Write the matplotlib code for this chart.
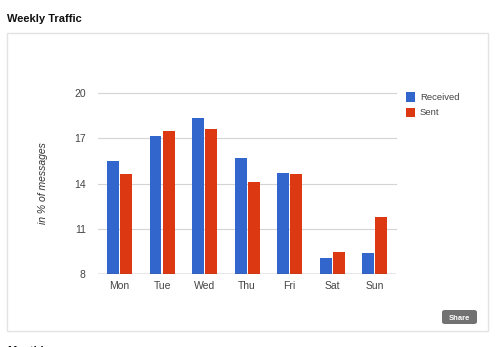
import matplotlib
matplotlib.use("Agg")
import matplotlib.pyplot as plt
from matplotlib.patches import Rectangle, FancyBboxPatch
import numpy as np

plt.rcParams["font.family"] = ["Liberation Sans", "DejaVu Sans"]

days = ["Mon", "Tue", "Wed", "Thu", "Fri", "Sat", "Sun"]
received = [15.5, 17.15, 18.3, 15.7, 14.7, 9.1, 9.4]
sent = [14.6, 17.5, 17.6, 14.1, 14.6, 9.5, 11.8]
series_names = ["Received", "Sent"]
series_colors = ["#3366CC", "#DC3912"]
y_ticks = [8, 11, 14, 17, 20]

W, H = 500, 347
fig = plt.figure(figsize=(W / 100, H / 100), dpi=100)
fig.patch.set_facecolor("white")

def fx(px):
    return px / W

def fy(py):
    return 1 - py / H

# card frame around the chart
fig.patches.append(Rectangle((fx(7), fy(331)), fx(488) - fx(7), fy(33) - fy(331),
                             transform=fig.transFigure, facecolor="white",
                             edgecolor="#e3e3e3", linewidth=1.0, zorder=-5))

fig.text(fx(7), fy(19), "Weekly Traffic", fontsize=8, fontweight="bold",
         color="#111111", ha="left", va="center")
fig.text(fx(7), fy(351.5), "Monthly", fontsize=8, fontweight="bold",
         color="#111111", ha="left", va="center")

ax = fig.add_axes([fx(98.3), fy(274.3), fx(396) - fx(98.3), fy(92.7) - fy(274.3)])
ax.set_facecolor("none")
ax.set_zorder(2)

x = np.arange(len(days))
bw = 0.28
off = 0.155
ax.bar(x - off, np.array(received) - 8, bw, bottom=8, color=series_colors[0], zorder=3)
ax.bar(x + off, np.array(sent) - 8, bw, bottom=8, color=series_colors[1], zorder=3)

ax.set_xlim(-0.5, len(days) - 0.5)
ax.set_ylim(8, 20)
ax.set_yticks(y_ticks)
ax.set_yticklabels([str(t) for t in y_ticks])
ax.set_xticks(x)
ax.set_xticklabels(days)
ax.tick_params(length=0, labelsize=7.5, colors="#444444")
ax.tick_params(axis="y", pad=9)
ax.tick_params(axis="x", pad=5)
for t in y_ticks[1:]:
    ax.axhline(t, color="#d4d4d4", linewidth=0.8, zorder=1, clip_on=False)
ax.axhline(8, color="#444444", linewidth=0.9, zorder=4)
for s in ax.spines.values():
    s.set_visible(False)

fig.text(fx(43), fy(183), "in % of messages", rotation=90, fontsize=7.5,
         fontstyle="italic", color="#333333", ha="center", va="center")

# legend
for i, (name, col) in enumerate(zip(series_names, series_colors)):
    top = 92.3 + i * 15.7
    fig.patches.append(Rectangle((fx(406), fy(top + 9.4)), fx(9.4), fy(0) - fy(9.4),
                                 transform=fig.transFigure, facecolor=col,
                                 edgecolor="none"))
    fig.text(fx(420), fy(top + 4.9), name, fontsize=6.8, color="#444444",
             ha="left", va="center")

# share button
fig.patches.append(FancyBboxPatch((fx(442), fy(324)), fx(35), fy(0) - fy(14),
                                  boxstyle="round,pad=0,rounding_size=0.006",
                                  transform=fig.transFigure, facecolor="#727272",
                                  edgecolor="none"))
fig.text(fx(459.5), fy(318.0), "Share", fontsize=5.5, fontweight="bold",
         color="white", ha="center", va="center")

fig.savefig("out.png", dpi=100)
